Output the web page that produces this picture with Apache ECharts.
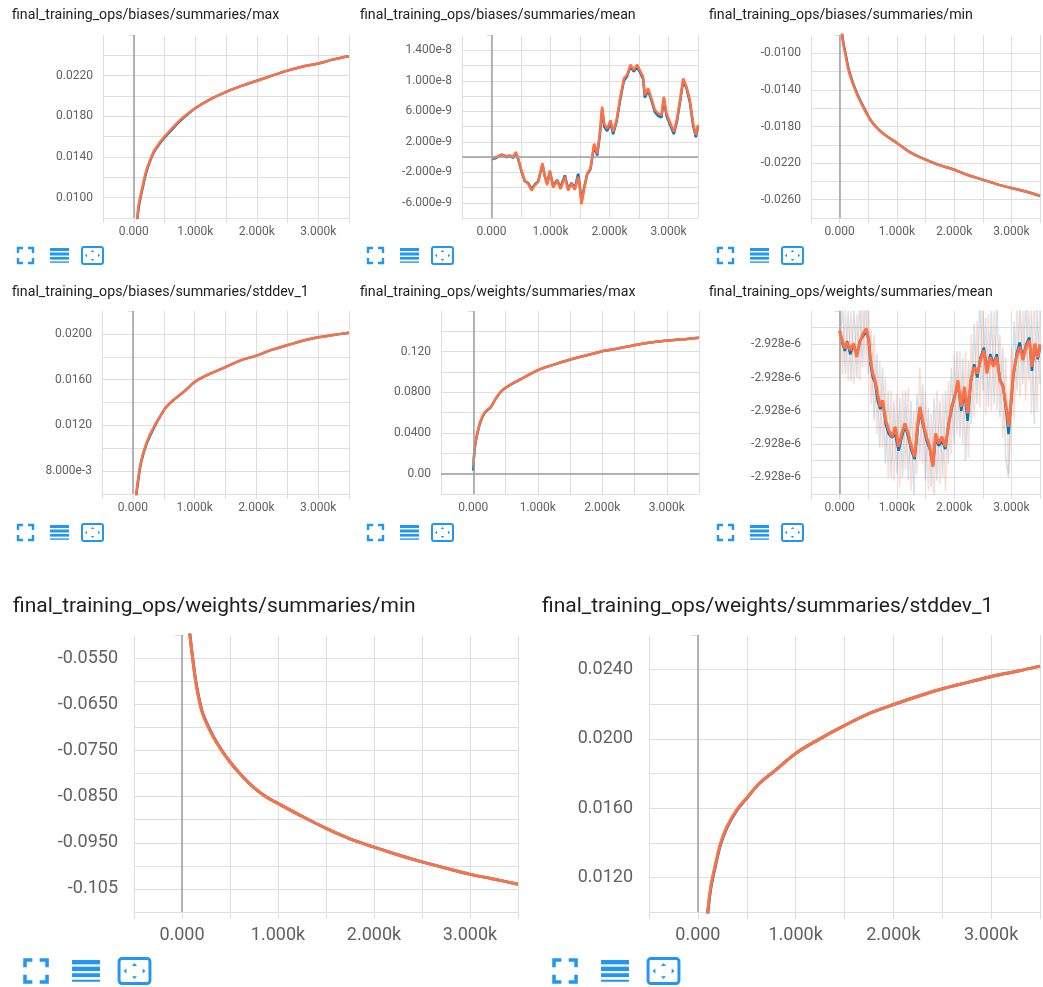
<!DOCTYPE html>
<html>
<head>
<meta charset="utf-8">
<title>final_training_ops summaries</title>
<script src="https://cdn.jsdelivr.net/npm/echarts@6/dist/echarts.min.js"></script>
<style>
	html, body { margin: 0; padding: 0; background: #fff; }
	#board { width: 1043px; height: 987px; }
</style>
</head>
<body>
<div id="board"></div>
<script>
//x轴 (steps), same for every panel
var xTickValues = [0, 1000, 2000, 3000];
var xTickLabels = ['0.000', '1.000k', '2.000k', '3.000k'];

//biases/max
var biasesMaxTitle = 'final_training_ops/biases/summaries/max';
var biasesMaxSteps = [55, 80, 110, 150, 200, 260, 330, 420, 500, 650, 800, 1000, 1250, 1500, 1750, 2000, 2250, 2500, 2750, 3000, 3250, 3500];
var biasesMaxOrange = [0.0079, 0.0093, 0.0102, 0.0113, 0.0126, 0.0136, 0.0146, 0.0154, 0.0160, 0.0170, 0.0179, 0.0188, 0.0197, 0.0204, 0.0210, 0.0215, 0.0220, 0.0225, 0.0229, 0.0232, 0.0236, 0.0239];
var biasesMaxBlue = [0.0077, 0.0090, 0.0100, 0.0111, 0.0124, 0.0135, 0.0145, 0.0153, 0.0159, 0.0169, 0.0178, 0.0188, 0.0197, 0.0204, 0.0210, 0.0215, 0.0220, 0.0225, 0.0229, 0.0232, 0.0236, 0.0239];
var biasesMaxYTicks = [0.010, 0.014, 0.018, 0.022];
var biasesMaxYLabels = ['0.0100', '0.0140', '0.0180', '0.0220'];

//biases/mean (units of 1e-9)
var biasesMeanTitle = 'final_training_ops/biases/summaries/mean';
var biasesMeanSteps = [10, 85, 170, 254, 311, 367, 412, 452, 508, 565, 621, 678, 734, 791, 864, 904, 944, 989, 1045, 1113, 1169, 1243, 1299, 1356, 1412, 1469, 1497, 1525, 1565, 1621, 1678, 1740, 1791, 1836, 1876, 1910, 1960, 2017, 2062, 2119, 2175, 2243, 2299, 2356, 2412, 2469, 2525, 2571, 2599, 2655, 2712, 2768, 2825, 2881, 2921, 2966, 3023, 3090, 3147, 3203, 3249, 3305, 3362, 3418, 3463, 3500];
var biasesMeanOrangeE9 = [-0.2, 0, 0.35, 0.1, 0.2, 0, 0.66, -0.2, -1.76, -3.1, -3.5, -4.4, -3.7, -3.3, -0.8, -2.6, -3.7, -1.76, -4.0, -3.1, -4.2, -2.6, -4.4, -3.5, -4.3, -2.6, -4.0, -6.2, -4.4, -2.2, -1.5, 1.76, 0.44, 3.1, 6.6, 4.4, 3.7, 4.8, 3.3, 4.8, 7.5, 10.3, 10.8, 12.1, 11.4, 12.1, 11.2, 10.5, 8.1, 9.0, 7.7, 6.2, 5.7, 5.5, 7.9, 5.7, 4.6, 3.3, 5.1, 7.9, 10.3, 9.2, 7.5, 4.4, 2.9, 4.2];
var biasesMeanBlueE9 = [-0.3, -0.1, 0.3, 0.0, 0.1, -0.1, 0.5, -0.3, -1.9, -3.2, -3.4, -4.2, -3.6, -3.2, -1.0, -2.5, -3.5, -1.9, -3.8, -3.0, -4.0, -2.4, -4.2, -3.4, -4.1, -2.2, -3.8, -5.9, -4.2, -2.3, -1.6, 1.5, 0.2, 2.8, 6.3, 4.0, 3.4, 4.5, 3.0, 4.6, 7.2, 10.0, 10.6, 11.9, 11.2, 11.8, 11.0, 10.2, 7.8, 8.7, 7.4, 5.9, 5.4, 5.2, 7.6, 5.4, 4.3, 3.0, 4.8, 7.6, 10.0, 9.0, 7.2, 4.1, 2.6, 4.0];
var biasesMeanYTicks = [-6, -2, 2, 6, 10, 14];
var biasesMeanYLabels = ['-6.000e-9', '-2.000e-9', '2.000e-9', '6.000e-9', '1.000e-8', '1.400e-8'];

//biases/min
var biasesMinTitle = 'final_training_ops/biases/summaries/min';
var biasesMinSteps = [30, 45, 70, 100, 157, 242, 326, 438, 551, 691, 831, 1000, 1225, 1494, 1730, 1994, 2236, 2494, 2742, 2983, 3247, 3500];
var biasesMinOrange = [-0.0070, -0.0081, -0.0092, -0.0101, -0.0119, -0.0135, -0.0148, -0.0162, -0.0174, -0.0184, -0.0191, -0.0198, -0.0208, -0.0216, -0.0222, -0.0227, -0.0233, -0.0238, -0.0243, -0.0247, -0.0251, -0.0256];
var biasesMinBlue = [-0.0070, -0.0080, -0.0090, -0.0099, -0.0117, -0.0134, -0.0147, -0.0161, -0.0174, -0.0184, -0.0191, -0.0198, -0.0208, -0.0216, -0.0222, -0.0227, -0.0233, -0.0238, -0.0243, -0.0247, -0.0251, -0.0256];
var biasesMinYTicks = [-0.026, -0.022, -0.018, -0.014, -0.010];
var biasesMinYLabels = ['-0.0260', '-0.0220', '-0.0180', '-0.0140', '-0.0100'];

//biases/stddev_1
var biasesStdTitle = 'final_training_ops/biases/summaries/stddev_1';
var biasesStdSteps = [40, 54, 97, 135, 216, 324, 432, 540, 676, 838, 1000, 1243, 1503, 1757, 2000, 2243, 2497, 2746, 3000, 3243, 3500];
var biasesStdOrange = [0.0050, 0.0060, 0.0078, 0.0089, 0.0104, 0.0117, 0.0127, 0.0136, 0.0143, 0.0150, 0.0158, 0.0165, 0.0171, 0.0177, 0.0181, 0.0186, 0.0190, 0.0194, 0.0197, 0.0199, 0.0201];
var biasesStdBlue = [0.0048, 0.0058, 0.0076, 0.0088, 0.0103, 0.0116, 0.0127, 0.0136, 0.0143, 0.0150, 0.0158, 0.0165, 0.0171, 0.0177, 0.0181, 0.0186, 0.0190, 0.0194, 0.0197, 0.0199, 0.0201];
var biasesStdYTicks = [0.008, 0.012, 0.016, 0.020];
var biasesStdYLabels = ['8.000e-3', '0.0120', '0.0160', '0.0200'];

//weights/max
var weightsMaxTitle = 'final_training_ops/weights/summaries/max';
var weightsMaxSteps = [0, 5, 10, 31, 67, 118, 185, 273, 350, 453, 607, 787, 978, 1225, 1482, 1714, 1971, 2203, 2460, 2717, 2975, 3232, 3500];
var weightsMaxOrange = [0.0085, 0.0110, 0.0164, 0.0296, 0.0411, 0.0526, 0.0608, 0.0657, 0.0740, 0.0822, 0.0887, 0.0947, 0.1012, 0.1068, 0.1118, 0.1157, 0.1200, 0.1226, 0.1259, 0.1288, 0.1308, 0.1321, 0.1338];
var weightsMaxBlue = [0.0030, 0.0080, 0.0150, 0.0285, 0.0402, 0.0520, 0.0604, 0.0654, 0.0738, 0.0821, 0.0886, 0.0946, 0.1012, 0.1068, 0.1118, 0.1157, 0.1200, 0.1226, 0.1259, 0.1288, 0.1308, 0.1321, 0.1338];
var weightsMaxYTicks = [0, 0.04, 0.08, 0.12];
var weightsMaxYLabels = ['0.00', '0.0400', '0.0800', '0.120'];

//weights/mean (offset units, every labelled tick reads -2.928e-6)
var weightsMeanTitle = 'final_training_ops/weights/summaries/mean';
var weightsMeanOrangeSteps = [0, 45, 90, 129, 185, 242, 298, 354, 410, 466, 506, 539, 579, 618, 663, 708, 753, 803, 860, 916, 972, 1028, 1084, 1140, 1197, 1253, 1309, 1365, 1404, 1461, 1517, 1573, 1629, 1674, 1730, 1787, 1843, 1899, 1955, 2011, 2067, 2124, 2180, 2236, 2292, 2348, 2404, 2461, 2517, 2573, 2629, 2685, 2742, 2798, 2854, 2910, 2955, 2994, 3034, 3090, 3146, 3202, 3258, 3315, 3360, 3410, 3460, 3500];
var weightsMeanOrange = [4.92, 4.62, 4.37, 4.57, 4.32, 4.52, 4.12, 4.57, 4.82, 4.97, 4.67, 4.02, 3.62, 3.42, 3.02, 2.62, 2.82, 2.22, 1.92, 1.72, 2.02, 1.42, 1.82, 2.12, 1.82, 1.42, 1.12, 2.12, 2.62, 2.12, 1.72, 1.42, 0.82, 1.82, 1.52, 1.72, 1.42, 2.02, 2.62, 2.92, 3.42, 2.62, 3.22, 2.42, 3.42, 3.82, 3.62, 4.02, 4.32, 3.62, 4.12, 3.82, 4.12, 3.42, 3.22, 2.62, 2.02, 2.82, 3.62, 4.12, 4.42, 4.02, 4.42, 4.62, 3.82, 4.52, 4.10, 4.50];
var weightsMeanBlueSteps = [0, 45, 90, 130, 185, 240, 300, 355, 410, 470, 510, 540, 580, 620, 665, 710, 755, 805, 860, 915, 970, 1030, 1085, 1140, 1200, 1255, 1310, 1365, 1405, 1460, 1520, 1575, 1630, 1675, 1730, 1790, 1845, 1900, 1955, 2010, 2070, 2125, 2180, 2235, 2290, 2350, 2405, 2460, 2520, 2575, 2630, 2690, 2745, 2800, 2855, 2910, 2950, 2995, 3035, 3090, 3145, 3200, 3260, 3315, 3360, 3410, 3460, 3500];
var weightsMeanBlue = [4.9, 4.55, 4.3, 4.6, 4.2, 4.5, 4.2, 4.6, 4.75, 4.9, 4.6, 3.9, 3.5, 3.35, 2.8, 2.55, 2.75, 2.1, 1.8, 1.7, 1.8, 1.3, 1.7, 2.05, 1.7, 1.3, 1.05, 2.0, 2.5, 2.05, 1.6, 1.35, 0.85, 1.7, 1.45, 1.6, 1.35, 2.05, 2.55, 2.95, 3.3, 2.5, 3.1, 2.2, 3.35, 3.9, 3.5, 4.1, 4.4, 3.7, 4.2, 3.9, 4.2, 3.45, 3.25, 2.5, 1.8, 2.7, 3.55, 4.2, 4.55, 4.1, 4.5, 4.7, 3.7, 4.45, 4.05, 4.4];
var weightsMeanRawSteps = [0, 50, 100, 150, 200, 250, 300, 350, 400, 450, 500, 550, 600, 650, 700, 750, 800, 850, 900, 950, 1000, 1050, 1100, 1150, 1200, 1250, 1300, 1350, 1400, 1450, 1500, 1550, 1600, 1650, 1700, 1750, 1800, 1850, 1900, 1950, 2000, 2050, 2100, 2150, 2200, 2250, 2300, 2350, 2400, 2450, 2500, 2550, 2600, 2650, 2700, 2750, 2800, 2850, 2900, 2950, 3000, 3050, 3100, 3150, 3200, 3250, 3300, 3350, 3400, 3450, 3500];
var weightsMeanRawOrange = [5.8, 3.6, 5.6, 3.4, 5.5, 3.3, 5.4, 3.4, 6.0, 3.8, 6.0, 2.7, 4.8, 1.8, 4.0, 1.4, 3.5, 0.5, 3.1, 0.4, 3.0, 0.2, 3.1, 0.7, 3.2, 0.1, 2.5, 0.6, 3.8, 0.9, 3.1, 0.1, 2.4, -0.3, 3.1, 0.3, 3.0, 0.1, 3.4, 1.2, 4.2, 1.8, 4.3, 1.5, 4.3, 1.1, 4.8, 2.3, 5.2, 2.6, 5.8, 2.4, 5.4, 2.5, 5.5, 2.5, 4.8, 1.7, 4.1, 0.6, 4.4, 2.2, 5.6, 2.9, 5.5, 2.8, 6.0, 2.4, 5.9, 2.5, 5.7];
var weightsMeanRawBlue = [4.3, 5.7, 3.6, 5.5, 3.4, 5.6, 3.5, 5.8, 3.8, 6.0, 3.6, 4.9, 2.2, 4.2, 1.4, 3.8, 0.9, 3.1, 0.5, 2.8, 0.6, 2.9, 0.5, 3.1, 0.4, 2.8, -0.1, 3.0, 1.0, 3.3, 0.4, 2.6, 0.2, 2.9, 0.4, 2.8, 0.5, 3.1, 0.9, 3.8, 1.5, 4.3, 1.7, 4.1, 1.0, 4.0, 2.1, 5.1, 2.7, 6.0, 3.1, 5.3, 2.6, 5.5, 2.7, 6.0, 2.3, 4.4, 1.1, 0.5, 2.5, 5.2, 3.1, 5.7, 3.3, 5.9, 3.4, 5.5, 2.1, 5.6, 3.3];
var weightsMeanYTicks = [0.5, 1.5, 2.5, 3.5, 4.5];
var weightsMeanYLabels = ['-2.928e-6', '-2.928e-6', '-2.928e-6', '-2.928e-6', '-2.928e-6'];

//weights/min
var weightsMinTitle = 'final_training_ops/weights/summaries/min';
var weightsMinSteps = [70, 83, 118, 152, 204, 256, 325, 412, 498, 602, 740, 879, 1000, 1225, 1502, 1744, 1993, 2263, 2491, 2747, 2990, 3232, 3500];
var weightsMinOrange = [-0.0470, -0.0502, -0.0563, -0.0613, -0.0664, -0.0692, -0.0721, -0.0750, -0.0775, -0.0800, -0.0829, -0.0851, -0.0865, -0.0890, -0.0919, -0.0941, -0.0959, -0.0977, -0.0991, -0.1005, -0.1018, -0.1028, -0.1040];
var weightsMinBlue = [-0.0468, -0.0500, -0.0561, -0.0610, -0.0661, -0.0690, -0.0719, -0.0749, -0.0774, -0.0800, -0.0829, -0.0851, -0.0865, -0.0890, -0.0919, -0.0941, -0.0959, -0.0977, -0.0991, -0.1005, -0.1018, -0.1028, -0.1040];
var weightsMinYTicks = [-0.105, -0.095, -0.085, -0.075, -0.065, -0.055];
var weightsMinYLabels = ['-0.105', '-0.0950', '-0.0850', '-0.0750', '-0.0650', '-0.0550'];

//weights/stddev_1
var weightsStdTitle = 'final_training_ops/weights/summaries/stddev_1';
var weightsStdSteps = [90, 99, 132, 182, 232, 298, 397, 497, 629, 795, 1000, 1225, 1507, 1755, 2010, 2285, 2510, 2781, 3013, 3278, 3500];
var weightsStdOrange = [0.0095, 0.0100, 0.01148, 0.01282, 0.01398, 0.01494, 0.0159, 0.01657, 0.01743, 0.0182, 0.01916, 0.01993, 0.02079, 0.02147, 0.0220, 0.02252, 0.02291, 0.02329, 0.02362, 0.02392, 0.0242];
var weightsStdBlue = [0.0093, 0.0098, 0.01135, 0.01272, 0.0139, 0.01488, 0.01586, 0.01655, 0.01742, 0.0182, 0.01916, 0.01993, 0.02079, 0.02147, 0.0220, 0.02252, 0.02291, 0.02329, 0.02362, 0.02392, 0.0242];
var weightsStdYTicks = [0.012, 0.016, 0.020, 0.024];
var weightsStdYLabels = ['0.0120', '0.0160', '0.0200', '0.0240'];

var orange = '#ff7043';
var blue = '#0077bb';
var gridColor = '#dedede';

var zipFn = function(xs, ys) {
	var out = [];
	for (var i = 0; i < xs.length; i++) {
		out.push([xs[i], ys[i]]);
	}
	return out;
};

var pickLabelFn = function(ticks, labels, step) {
	return function(v) {
		for (var i = 0; i < ticks.length; i++) {
			if (Math.abs(v - ticks[i]) < step / 100) return labels[i];
		}
		return '';
	};
};

//每个面板
var panels = [
	{ title: biasesMaxTitle, big: false, left: 103, top: 35, width: 246, height: 183, tLeft: 12, tTop: 8, icon: [18, 248],
	  yMin: 0.008, yMax: 0.026, yStep: 0.002, yTicks: biasesMaxYTicks, yLabels: biasesMaxYLabels, zeroY: false,
	  lines: [
		{ x: biasesMaxSteps, y: biasesMaxBlue, color: blue, smooth: true },
		{ x: biasesMaxSteps, y: biasesMaxOrange, color: orange, smooth: true }
	  ] },
	{ title: biasesMeanTitle, big: false, left: 462, top: 35, width: 236, height: 183, tLeft: 360, tTop: 8, icon: [368, 248],
	  yMin: -8, yMax: 16, yStep: 2, yTicks: biasesMeanYTicks, yLabels: biasesMeanYLabels, zeroY: true,
	  lines: [
		{ x: biasesMeanSteps, y: biasesMeanBlueE9, color: blue },
		{ x: biasesMeanSteps, y: biasesMeanOrangeE9, color: orange }
	  ] },
	{ title: biasesMinTitle, big: false, left: 811, top: 35, width: 237, height: 183, tLeft: 709, tTop: 8, icon: [718, 248],
	  yMin: -0.028, yMax: -0.008, yStep: 0.002, yTicks: biasesMinYTicks, yLabels: biasesMinYLabels, zeroY: false,
	  lines: [
		{ x: biasesMinSteps, y: biasesMinBlue, color: blue, smooth: true },
		{ x: biasesMinSteps, y: biasesMinOrange, color: orange, smooth: true }
	  ] },
	{ title: biasesStdTitle, big: false, left: 102, top: 311, width: 247, height: 183, tLeft: 12, tTop: 285, icon: [18, 525],
	  yMin: 0.006, yMax: 0.022, yStep: 0.002, yTicks: biasesStdYTicks, yLabels: biasesStdYLabels, zeroY: false,
	  lines: [
		{ x: biasesStdSteps, y: biasesStdBlue, color: blue, smooth: true },
		{ x: biasesStdSteps, y: biasesStdOrange, color: orange, smooth: true }
	  ] },
	{ title: weightsMaxTitle, big: false, left: 441, top: 311, width: 258, height: 183, tLeft: 360, tTop: 285, icon: [368, 525],
	  yMin: -0.02, yMax: 0.16, yStep: 0.02, yTicks: weightsMaxYTicks, yLabels: weightsMaxYLabels, zeroY: true,
	  lines: [
		{ x: weightsMaxSteps, y: weightsMaxBlue, color: blue, smooth: true },
		{ x: weightsMaxSteps, y: weightsMaxOrange, color: orange, smooth: true }
	  ] },
	{ title: weightsMeanTitle, big: false, left: 811, top: 311, width: 237, height: 183, tLeft: 709, tTop: 285, icon: [718, 525],
	  yMin: 0, yMax: 5.5, yStep: 0.5, yTicks: weightsMeanYTicks, yLabels: weightsMeanYLabels, zeroY: false,
	  lines: [
		{ x: weightsMeanRawSteps, y: weightsMeanRawBlue, color: blue, opacity: 0.2, width: 1.5 },
		{ x: weightsMeanRawSteps, y: weightsMeanRawOrange, color: orange, opacity: 0.25, width: 1.5 },
		{ x: weightsMeanBlueSteps, y: weightsMeanBlue, color: blue },
		{ x: weightsMeanOrangeSteps, y: weightsMeanOrange, color: orange, width: 3 }
	  ] },
	{ title: weightsMinTitle, big: true, left: 134, top: 635, width: 384, height: 277, tLeft: 13, tTop: 596, icon: [25, 960],
	  yMin: -0.110, yMax: -0.050, yStep: 0.005, yTicks: weightsMinYTicks, yLabels: weightsMinYLabels, zeroY: false,
	  lines: [
		{ x: weightsMinSteps, y: weightsMinBlue, color: blue, smooth: true },
		{ x: weightsMinSteps, y: weightsMinOrange, color: orange, smooth: true }
	  ] },
	{ title: weightsStdTitle, big: true, left: 649, top: 635, width: 404, height: 277, tLeft: 542, tTop: 596, icon: [554, 960],
	  yMin: 0.010, yMax: 0.026, yStep: 0.002, yTicks: weightsStdYTicks, yLabels: weightsStdYLabels, zeroY: false,
	  lines: [
		{ x: weightsStdSteps, y: weightsStdBlue, color: blue, smooth: true },
		{ x: weightsStdSteps, y: weightsStdOrange, color: orange, smooth: true }
	  ] }
];

//icons under each panel (fullscreen / list / fit)
var iconFn = function(x0, y0, s) {
	var c = '#2196f3';
	var w = 2.4;
	var stroke = { stroke: c, lineWidth: w, fill: null };
	return {
		type: 'group', x: x0, y: y0, scaleX: s, scaleY: s,
		children: [
			{ type: 'polyline', shape: { points: [[0, 5], [0, 0], [5, 0]] }, style: stroke },
			{ type: 'polyline', shape: { points: [[10, 0], [15, 0], [15, 5]] }, style: stroke },
			{ type: 'polyline', shape: { points: [[15, 10], [15, 15], [10, 15]] }, style: stroke },
			{ type: 'polyline', shape: { points: [[5, 15], [0, 15], [0, 10]] }, style: stroke },
			{ type: 'rect', shape: { x: 32, y: 0, width: 19, height: 3 }, style: { fill: c } },
			{ type: 'rect', shape: { x: 32, y: 4.5, width: 19, height: 3 }, style: { fill: c } },
			{ type: 'rect', shape: { x: 32, y: 9, width: 19, height: 2.6 }, style: { fill: c } },
			{ type: 'rect', shape: { x: 32, y: 13.4, width: 19, height: 1.4 }, style: { fill: c } },
			{ type: 'rect', shape: { x: 64, y: -1, width: 21, height: 17, r: 2 }, style: { stroke: c, lineWidth: 2, fill: null } },
			{ type: 'polygon', shape: { points: [[72.8, 4], [76.2, 4], [74.5, 2]] }, style: { fill: c } },
			{ type: 'polygon', shape: { points: [[72.8, 11], [76.2, 11], [74.5, 13]] }, style: { fill: c } },
			{ type: 'polygon', shape: { points: [[69, 5.8], [69, 9.2], [67, 7.5]] }, style: { fill: c } },
			{ type: 'polygon', shape: { points: [[80, 5.8], [80, 9.2], [82, 7.5]] }, style: { fill: c } }
		]
	};
};

var buildOptionFn = function() {
	var titles = [], grids = [], xAxes = [], yAxes = [], series = [], graphics = [];
	for (var i = 0; i < panels.length; i++) {
		var p = panels[i];
		var fs = p.big ? 18 : 12;
		var tick = p.big ? 7 : 5;
		titles.push({
			text: p.title, left: p.tLeft, top: p.tTop, padding: 0,
			textStyle: { fontFamily: 'Roboto', fontSize: p.big ? 21 : 14.2, fontWeight: 'normal', color: '#212121' }
		});
		grids.push({ left: p.left, top: p.top, width: p.width, height: p.height, containLabel: false });
		xAxes.push({
			type: 'value', gridIndex: i, min: -500, max: 3500, interval: 500,
			axisLine: { show: false },
			axisTick: { show: true, length: tick, lineStyle: { color: gridColor } },
			axisLabel: {
				margin: p.big ? 14 : 8, fontSize: fs, fontFamily: 'Roboto', color: '#616161',
				formatter: pickLabelFn(xTickValues, xTickLabels, 500)
			},
			splitLine: { show: true, lineStyle: { color: gridColor, width: 1 } }
		});
		yAxes.push({
			type: 'value', gridIndex: i, min: p.yMin, max: p.yMax, interval: p.yStep,
			axisLine: { show: false },
			axisTick: { show: true, length: tick, lineStyle: { color: gridColor } },
			axisLabel: {
				margin: p.big ? 16 : 10, fontSize: fs, fontFamily: 'Roboto', color: '#616161',
				formatter: pickLabelFn(p.yTicks, p.yLabels, p.yStep)
			},
			splitLine: { show: true, showMaxLine: false, lineStyle: { color: gridColor, width: 1 } }
		});
		//zero lines
		var zero = [{ xAxis: 0 }];
		if (p.zeroY) zero.push({ yAxis: 0 });
		series.push({
			type: 'line', xAxisIndex: i, yAxisIndex: i, data: [], z: 1, silent: true,
			markLine: {
				silent: true, symbol: ['none', 'none'], label: { show: false }, animation: false,
				lineStyle: { color: '#9e9e9e', width: 1.5, type: 'solid' },
				data: zero
			}
		});
		for (var j = 0; j < p.lines.length; j++) {
			var ln = p.lines[j];
			series.push({
				type: 'line', xAxisIndex: i, yAxisIndex: i, z: 2 + j,
				data: zipFn(ln.x, ln.y),
				showSymbol: false, symbol: 'none', smooth: ln.smooth ? 0.35 : false,
				clip: true, animation: false, silent: true,
				lineStyle: { color: ln.color, width: ln.width || (p.big ? 3 : 2.5), opacity: ln.opacity == null ? 1 : ln.opacity }
			});
		}
		graphics.push(iconFn(p.icon[0], p.icon[1], p.big ? 1.47 : 1));
	}
	return {
		backgroundColor: '#ffffff',
		animation: false,
		title: titles,
		grid: grids,
		xAxis: xAxes,
		yAxis: yAxes,
		series: series,
		graphic: graphics
	};
};

var boardEchart = echarts.init(document.getElementById('board'));
boardEchart.setOption(buildOptionFn());
</script>
</body>
</html>
